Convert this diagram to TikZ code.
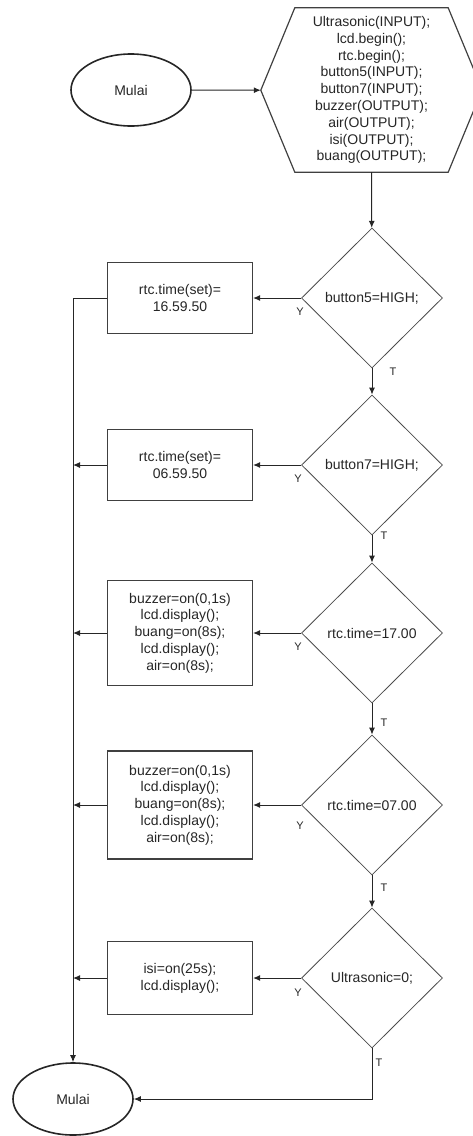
\documentclass[tikz,border=0pt]{standalone}
\usepackage{fontspec}
\setmainfont{Liberation Sans}
\usetikzlibrary{arrows.meta, shapes.geometric}

\begin{document}
\begin{tikzpicture}[x=1pt, y=-1pt,
    txt/.style={font=\fontsize{14}{16.8}\selectfont, text=black!85, align=center},
    term/.style={txt, draw=black!85, line width=1.6pt, ellipse, minimum width=120pt, minimum height=72pt, inner sep=0pt},
    proc/.style={txt, draw=black!75, line width=1.2pt, rectangle, minimum width=145pt, inner sep=2pt},
    cond/.style={txt, draw=black!70, line width=0.8pt, diamond, aspect=1, minimum width=141pt, minimum height=140pt, inner sep=0pt},
    arr/.style={draw=black!85, line width=1pt, -{Latex[length=7pt,width=6pt]}},
    lbl/.style={font=\fontsize{11}{12}\selectfont, text=black!85, inner sep=0pt}]

            \useasboundingbox (0,0) rectangle (472,1136);

            % Mulai
            \node[term] (start) at (131,90) {Mulai};

            % inisialisasi (segi enam)
            \node[txt, minimum width=153pt, minimum height=164pt, inner sep=0pt] (init) at (371.5,90)
                {Ultrasonic(INPUT);\\lcd.begin();\\rtc.begin();\\button5(INPUT);\\button7(INPUT);\\buzzer(OUTPUT);\\air(OUTPUT);\\isi(OUTPUT);\\buang(OUTPUT);};
            \draw[draw=black!75, line width=1.2pt] (init.north west) -- (init.north east) -- ++(34,82) coordinate (initR)
                -- (init.south east) -- (init.south west) -- ++(-34,-82) coordinate (initL) -- cycle;

            % kondisi
            \node[cond] (d1) at (372,298) {button5=HIGH;};
            \node[cond] (d2) at (372,465) {button7=HIGH;};
            \node[cond] (d3) at (372,633) {rtc.time=17.00};
            \node[cond] (d4) at (372,805) {rtc.time=07.00};
            \node[cond] (d5) at (372,978) {Ultrasonic=0;};

            % proses
            \node[proc, minimum height=71pt] (b1) at (180,298) {rtc.time(set)=\\16.59.50};
            \node[proc, minimum height=71pt] (b2) at (180,465) {rtc.time(set)=\\06.59.50};
            \node[proc, minimum height=105pt] (b3) at (180,633) {buzzer=on(0,1s)\\lcd.display();\\buang=on(8s);\\lcd.display();\\air=on(8s);};
            \node[proc, minimum height=108pt] (b4) at (180,805) {buzzer=on(0,1s)\\lcd.display();\\buang=on(8s);\\lcd.display();\\air=on(8s);};
            \node[proc, minimum height=73pt] (b5) at (180,978) {isi=on(25s);\\lcd.display();};

            % Selesai
            \node[term] (stop) at (73,1099) {Mulai};

            % alur utama
            \draw[arr] (start) -- (initL);
            \draw[arr] (init.south) -- (d1);
            \draw[arr] (d1) -- (d2);
            \draw[arr] (d2) -- (d3);
            \draw[arr] (d3) -- (d4);
            \draw[arr] (d4) -- (d5);
            \draw[arr] (d5.south) |- (stop.east);

            % cabang Y
            \draw[arr] (d1) -- (b1);
            \draw[arr] (d2) -- (b2);
            \draw[arr] (d3) -- (b3);
            \draw[arr] (d4) -- (b4);
            \draw[arr] (d5) -- (b5);

            % kembali ke garis kiri
            \draw[arr] (b1.west) -| (stop.north);
            \draw[arr] (b2.west) -- (b2.west -| stop.north);
            \draw[arr] (b3.west) -- (b3.west -| stop.north);
            \draw[arr] (b4.west) -- (b4.west -| stop.north);
            \draw[arr] (b5.west) -- (b5.west -| stop.north);

            % label
            \node[lbl] (y1) at (300,312) {Y};
            \node[lbl] (y2) at (298,479) {Y};
            \node[lbl] (y3) at (298,647) {Y};
            \node[lbl] (y4) at (300,826) {Y};
            \node[lbl] (y5) at (298,993) {Y};
            \node[lbl] (t1) at (393,372) {T};
            \node[lbl] (t2) at (384,536) {T};
            \node[lbl] (t3) at (384,723) {T};
            \node[lbl] (t4) at (384,888) {T};
            \node[lbl] (t5) at (379,1063) {T};

\end{tikzpicture}
\end{document}
